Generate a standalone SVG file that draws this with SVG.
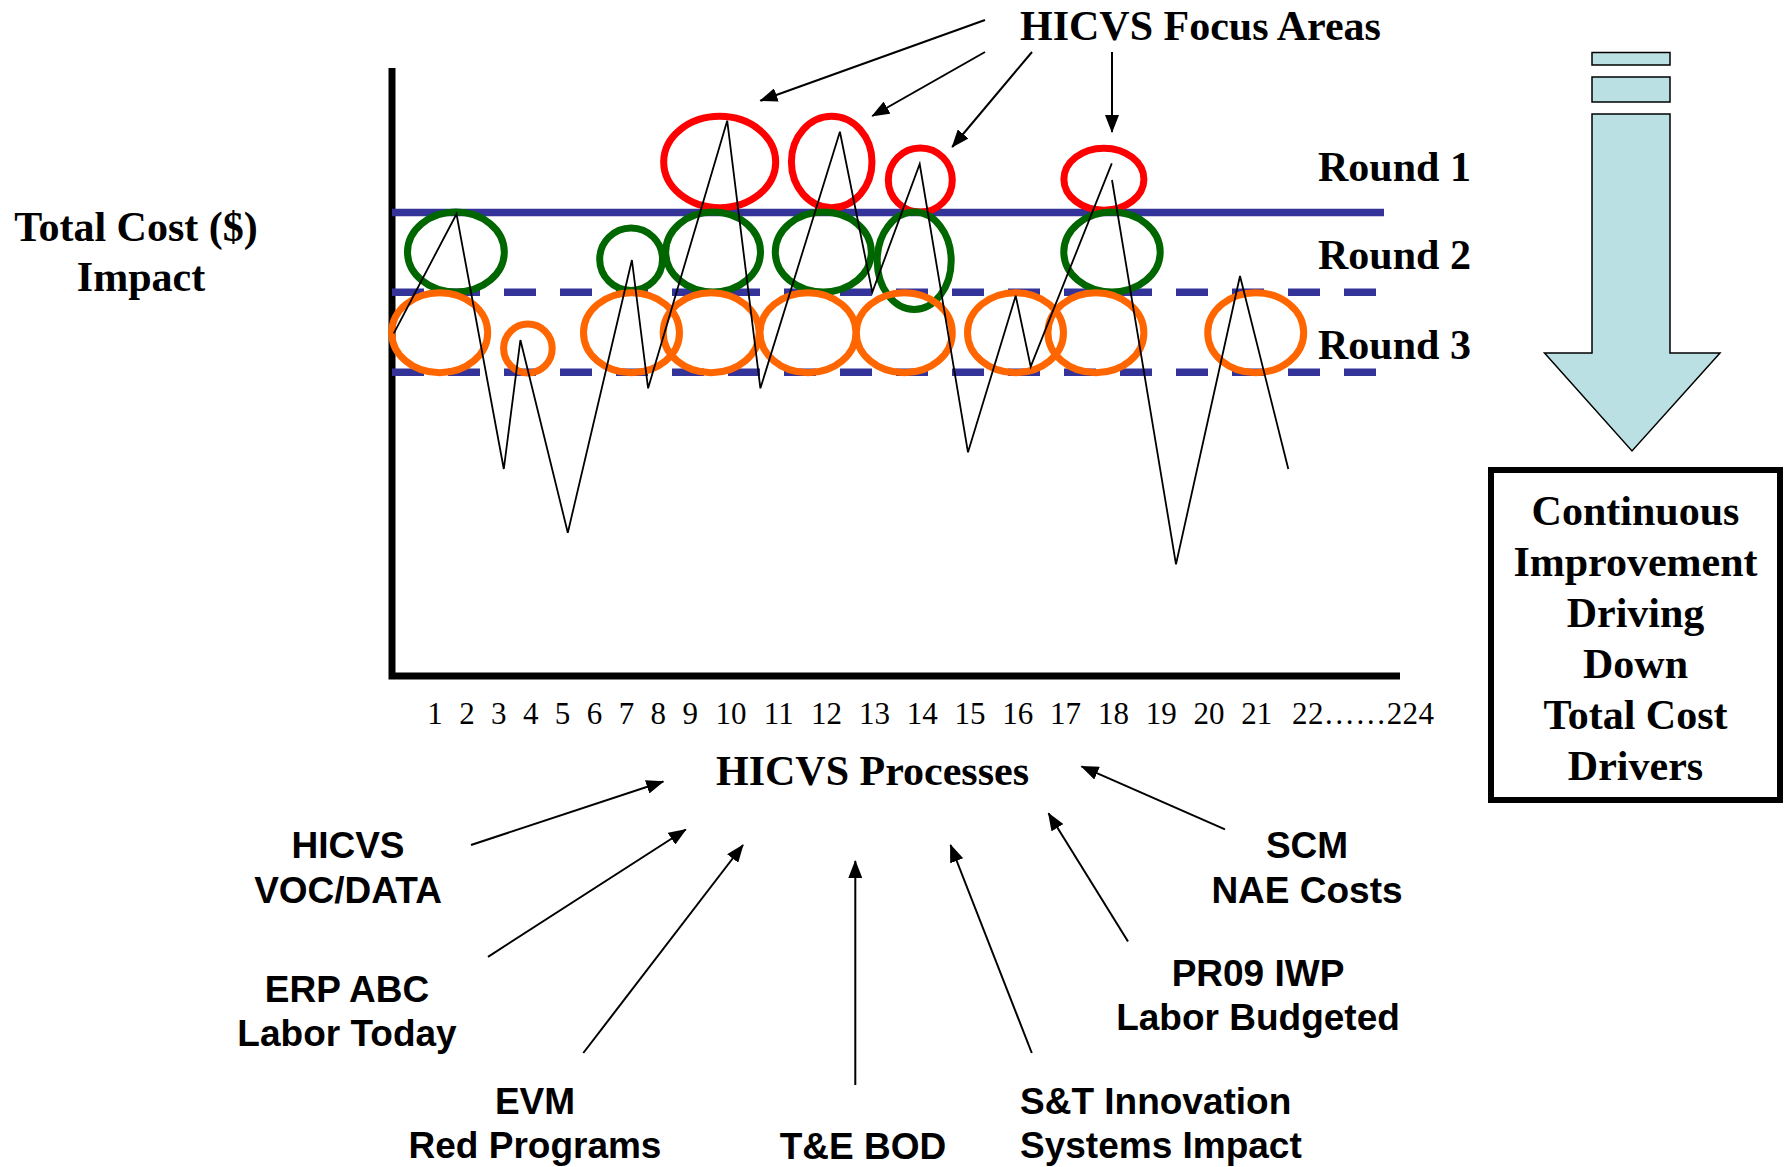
<svg xmlns="http://www.w3.org/2000/svg" width="1786" height="1167" viewBox="0 0 1786 1167">
  <style>
    .serif { font-family: "Liberation Serif", "Times New Roman", serif; fill: #000; }
    .title { font-weight: bold; font-size: 42px; }
    .tick { font-size: 31px; text-anchor: middle; }
    .lbl { font-family: "Liberation Sans", Arial, sans-serif; font-weight: bold; font-size: 37px; fill: #000; text-anchor: middle; }
    .lbl.left { text-anchor: start; }
    .band { stroke: #333399; stroke-width: 7.5; fill: none; }
    .dash { stroke-dasharray: 32 24; }
    .ring { fill: none; stroke-width: 7; }
    .r1 { stroke: #FF0000; }
    .r2 { stroke: #006600; }
    .r3 { stroke: #FF6600; }
    .data { fill: none; stroke: #000; stroke-width: 1.8; stroke-linejoin: miter; }
    .conn { stroke: #000; stroke-width: 2; fill: none; marker-end: url(#head); }
  </style>
  <defs>
    <marker id="head" markerUnits="userSpaceOnUse" markerWidth="18" markerHeight="14" refX="17" refY="7" orient="auto">
      <path d="M0,0 L18,7 L0,14 z" fill="#000"/>
    </marker>
  </defs>
  <rect width="1786" height="1167" fill="#fff"/>

  <!-- chart axes -->
  <g id="axes">
    <polyline points="392,68 392,676 1400,676" fill="none" stroke="#000" stroke-width="7"/>
  </g>

  <!-- round threshold bands -->
  <g id="bands">
    <line class="band" x1="392" y1="212.5" x2="1384" y2="212.5"/>
    <line class="band dash" x1="392" y1="292.3" x2="1376" y2="292.3"/>
    <line class="band dash" x1="392" y1="372.3" x2="1376" y2="372.3"/>
  </g>

  <!-- focus-area rings -->
  <g id="round1-rings">
    <ellipse class="ring r1" cx="719.7" cy="162" rx="56" ry="45.7"/>
    <ellipse class="ring r1" cx="831.7" cy="162" rx="40.3" ry="45.7"/>
    <ellipse class="ring r1" cx="920.3" cy="180" rx="32" ry="32"/>
    <ellipse class="ring r1" cx="1103.9" cy="179.2" rx="40" ry="31"/>
  </g>
  <g id="round2-rings">
    <ellipse class="ring r2" cx="455.9" cy="252" rx="48.4" ry="40"/>
    <ellipse class="ring r2" cx="631.1" cy="259.2" rx="31.4" ry="31.2"/>
    <ellipse class="ring r2" cx="713.1" cy="252" rx="47.4" ry="40"/>
    <ellipse class="ring r2" cx="823.3" cy="252" rx="48" ry="40"/>
    <ellipse class="ring r2" cx="914.2" cy="260.7" rx="37" ry="48.7"/>
    <ellipse class="ring r2" cx="1112" cy="252" rx="48.2" ry="40"/>
  </g>
  <g id="round3-rings">
    <ellipse class="ring r3" cx="439.7" cy="332.7" rx="48" ry="40"/>
    <ellipse class="ring r3" cx="527.9" cy="348.5" rx="24.3" ry="24.5"/>
    <ellipse class="ring r3" cx="631.5" cy="332.7" rx="48" ry="40"/>
    <ellipse class="ring r3" cx="711.2" cy="332.7" rx="48" ry="40"/>
    <ellipse class="ring r3" cx="808" cy="332.7" rx="48" ry="40"/>
    <ellipse class="ring r3" cx="904.3" cy="332.7" rx="48" ry="40"/>
    <ellipse class="ring r3" cx="1015.5" cy="332.7" rx="48" ry="40"/>
    <ellipse class="ring r3" cx="1095.9" cy="332.7" rx="48" ry="40"/>
    <ellipse class="ring r3" cx="1255.7" cy="332.7" rx="48" ry="40"/>
  </g>

  <!-- cost trace across processes -->
  <g id="trace">
    <polyline class="data" points="393.8,333.3 456.5,214 503.8,469 520.4,340 567.8,532.7 631.9,260 648.1,388.3 727.2,120.7 760.4,388.3 839.9,131.7 872.3,292.3 919.7,164 968,452.3 1015.7,295.7 1030.7,366.7 1111.8,163.3"/>
    <polyline class="data" points="1112,180 1176,564.3 1240,276 1288.3,469"/>
  </g>

  <!-- axis labels -->
  <g id="y-label">
    <text class="serif title" x="136" y="241" text-anchor="middle">Total Cost ($)</text>
    <text class="serif title" x="141" y="291" text-anchor="middle">Impact</text>
  </g>
  <g id="x-ticks" class="serif tick">
    <text x="435" y="724">1</text>
    <text x="466.9" y="724">2</text>
    <text x="498.8" y="724">3</text>
    <text x="530.7" y="724">4</text>
    <text x="562.6" y="724">5</text>
    <text x="594.5" y="724">6</text>
    <text x="626.4" y="724">7</text>
    <text x="658.3" y="724">8</text>
    <text x="690.2" y="724">9</text>
    <text x="731" y="724">10</text>
    <text x="778.8" y="724">11</text>
    <text x="826.6" y="724">12</text>
    <text x="874.4" y="724">13</text>
    <text x="922.2" y="724">14</text>
    <text x="970" y="724">15</text>
    <text x="1017.8" y="724">16</text>
    <text x="1065.6" y="724">17</text>
    <text x="1113.4" y="724">18</text>
    <text x="1161.2" y="724">19</text>
    <text x="1209" y="724">20</text>
    <text x="1256.8" y="724">21</text>
    <text x="1292" y="724" text-anchor="start" textLength="142" lengthAdjust="spacing">22……224</text>
  </g>

  <g id="focus-title">
    <text class="serif title" x="1020" y="40">HICVS Focus Areas</text>
  </g>
  <g id="round-labels">
    <text class="serif title" x="1318" y="181">Round 1</text>
    <text class="serif title" x="1318" y="269">Round 2</text>
    <text class="serif title" x="1318" y="359">Round 3</text>
  </g>
  <g id="processes-title">
    <text class="serif title" x="716" y="785">HICVS Processes</text>
  </g>

  <!-- process sources -->
  <g id="src-voc">
    <text class="lbl" x="348" y="858">HICVS</text>
    <text class="lbl" x="348" y="903">VOC/DATA</text>
  </g>
  <g id="src-erp">
    <text class="lbl" x="347" y="1002">ERP ABC</text>
    <text class="lbl" x="347" y="1046">Labor Today</text>
  </g>
  <g id="src-evm">
    <text class="lbl" x="535" y="1114">EVM</text>
    <text class="lbl" x="535" y="1158">Red Programs</text>
  </g>
  <g id="src-te">
    <text class="lbl" x="863" y="1159">T&amp;E BOD</text>
  </g>
  <g id="src-st">
    <text class="lbl left" x="1020" y="1114">S&amp;T Innovation</text>
    <text class="lbl left" x="1020" y="1158">Systems Impact</text>
  </g>
  <g id="src-pr09">
    <text class="lbl" x="1258" y="986">PR09 IWP</text>
    <text class="lbl" x="1258" y="1030">Labor Budgeted</text>
  </g>
  <g id="src-scm">
    <text class="lbl" x="1307" y="858">SCM</text>
    <text class="lbl" x="1307" y="903">NAE Costs</text>
  </g>

  <!-- continuous improvement arrow and result box -->
  <g id="ci-arrow" fill="#BBE0E3" stroke="#000" stroke-width="1.5">
    <rect x="1592" y="52.5" width="78" height="12.5"/>
    <rect x="1592" y="77" width="78" height="25"/>
    <path d="M1592,114 L1670,114 L1670,353 L1720,353 L1632,451 L1544.5,353 L1592,353 Z"/>
  </g>
  <g id="ci-box">
    <rect x="1491" y="470" width="289" height="330" fill="#fff" stroke="#000" stroke-width="6"/>
    <g class="serif title" text-anchor="middle">
      <text x="1635.5" y="525">Continuous</text>
      <text x="1635.5" y="576">Improvement</text>
      <text x="1635.5" y="627">Driving</text>
      <text x="1635.5" y="678">Down</text>
      <text x="1635.5" y="729">Total Cost</text>
      <text x="1635.5" y="780">Drivers</text>
    </g>
  </g>

  <!-- connectors -->
  <g id="connectors">
    <line class="conn" x1="985" y1="20" x2="760.4" y2="100.7"/>
    <line class="conn" x1="985" y1="52" x2="872.3" y2="116"/>
    <line class="conn" x1="1032" y1="52" x2="952.2" y2="147"/>
    <line class="conn" x1="1112" y1="52" x2="1112" y2="132"/>

    <line class="conn" x1="471" y1="845" x2="663.3" y2="781.5"/>
    <line class="conn" x1="488" y1="956.8" x2="685.8" y2="829.5"/>
    <line class="conn" x1="583.3" y1="1053" x2="743" y2="845"/>
    <line class="conn" x1="855.3" y1="1085" x2="855.3" y2="861"/>
    <line class="conn" x1="1031.8" y1="1053" x2="950.5" y2="845"/>
    <line class="conn" x1="1128" y1="941.5" x2="1048.5" y2="813.3"/>
    <line class="conn" x1="1225" y1="829.3" x2="1081.5" y2="766.3"/>
  </g>
</svg>
